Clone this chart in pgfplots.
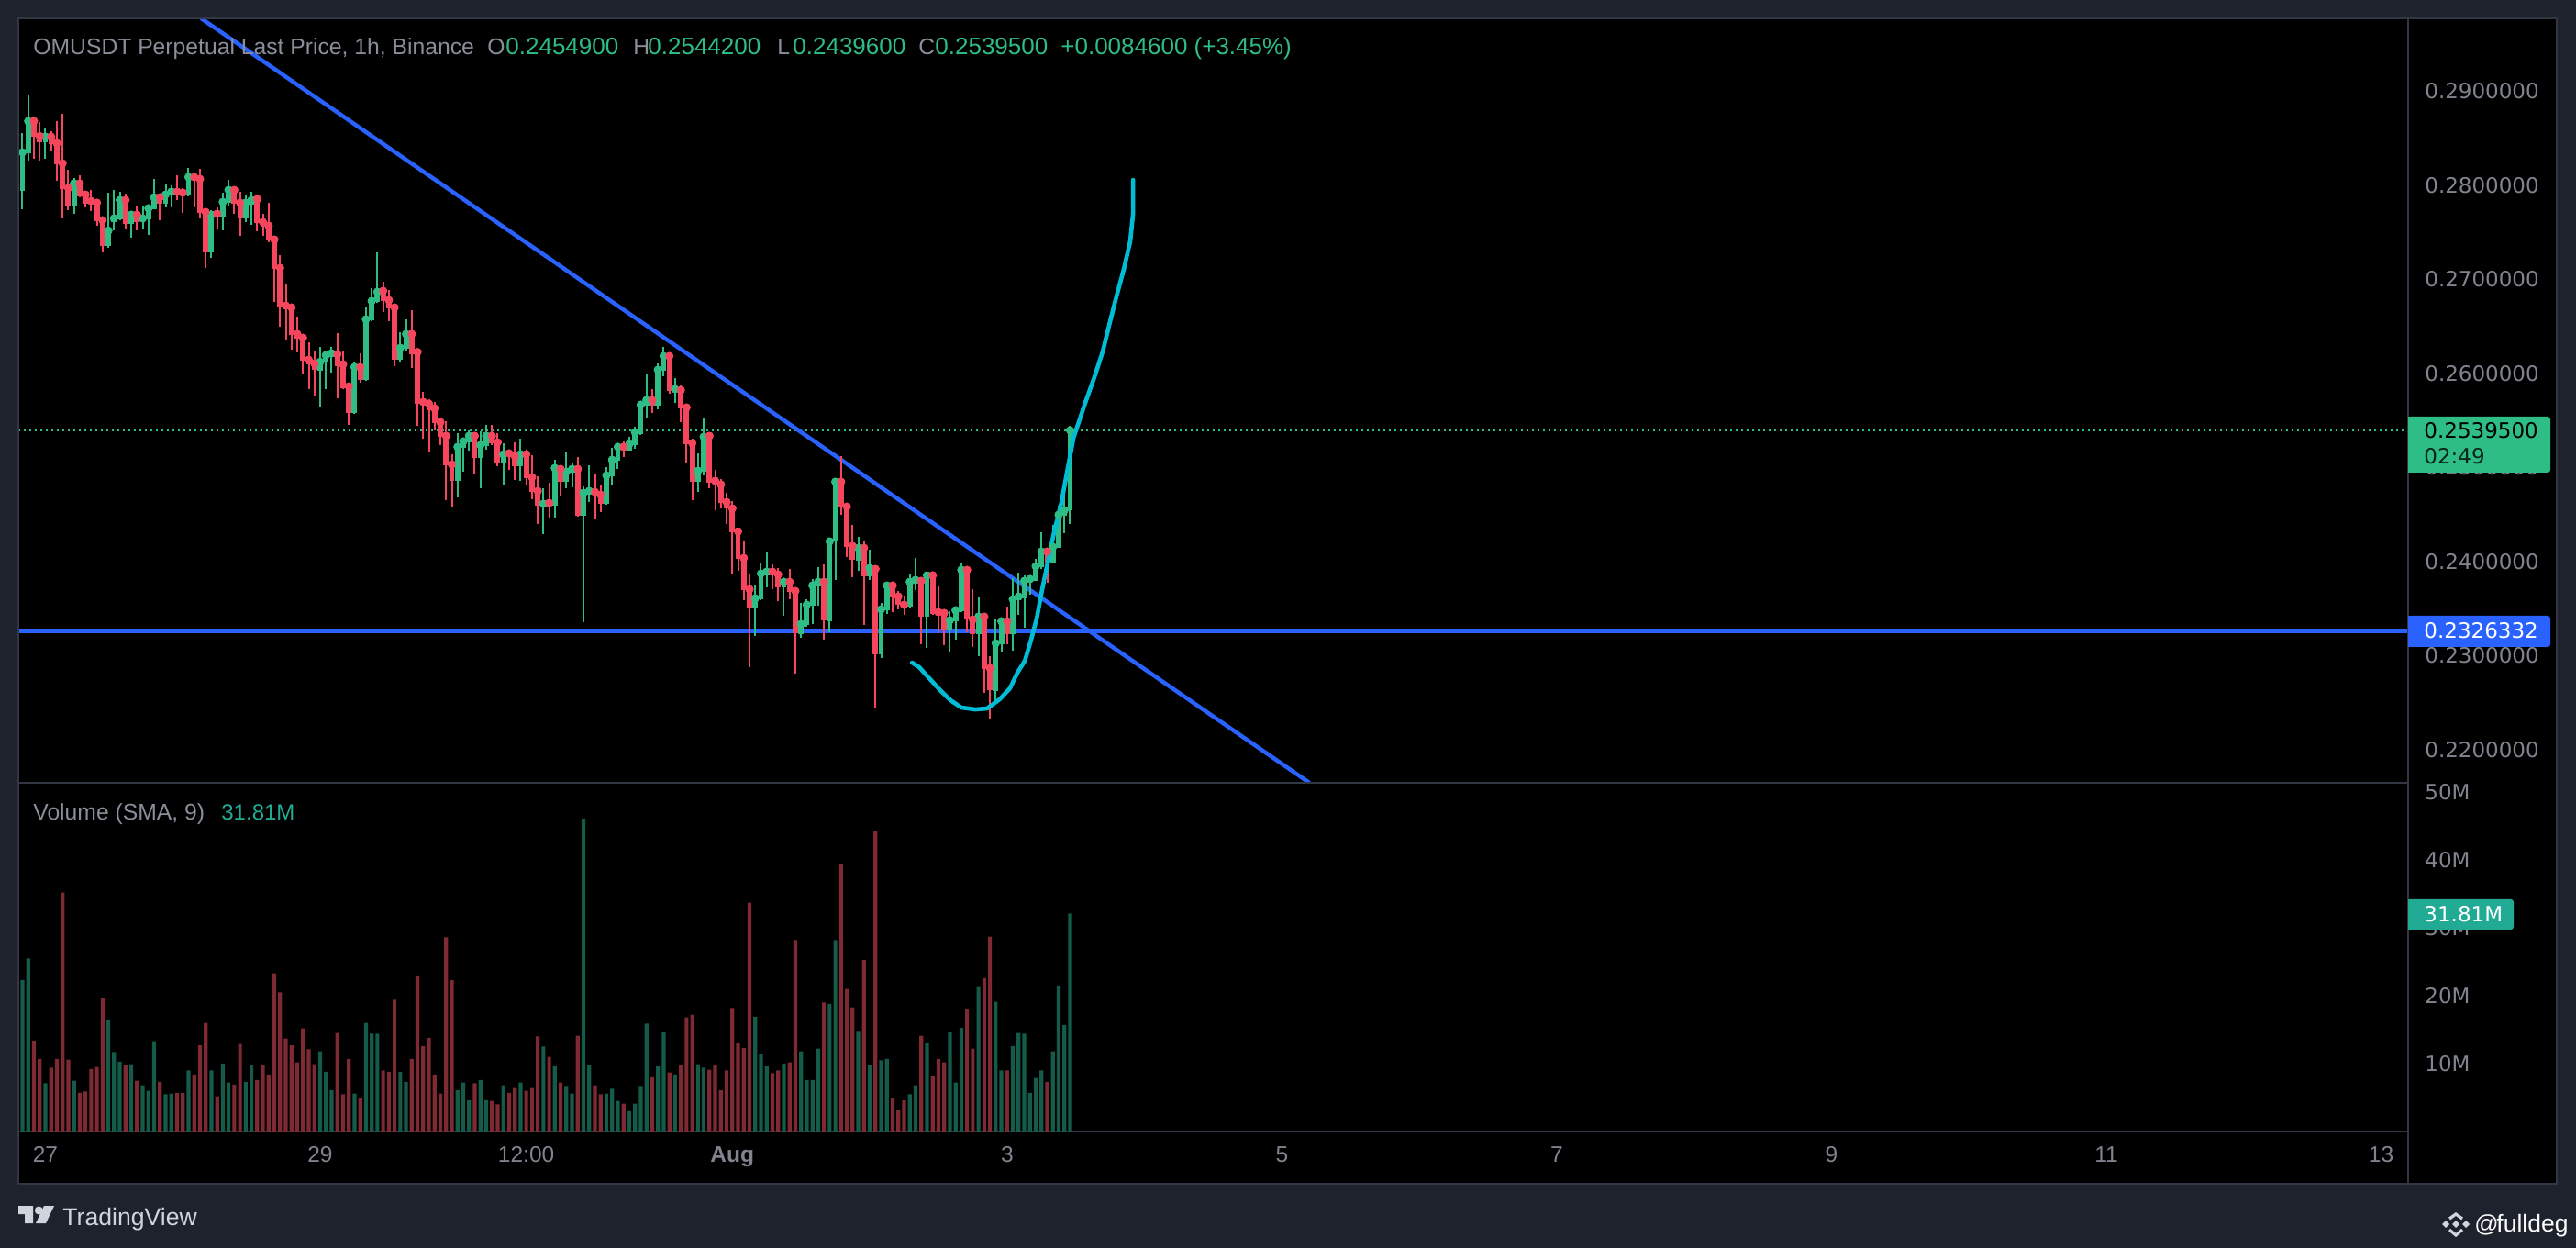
\documentclass[border=0pt]{standalone}
\usepackage{pgfplots}
\usepackage{pgfplotstable}
\usepackage{fontspec}
\pgfplotsset{compat=1.18}
\setmainfont{Liberation Sans}
\newfontfamily\dejavu{DejaVu Sans}
\definecolor{pagebg}{HTML}{1E222D}
\definecolor{edge}{HTML}{333743}
\definecolor{cg}{HTML}{2EBD85}
\definecolor{cr}{HTML}{F6465D}
\definecolor{vg}{HTML}{145C49}
\definecolor{vr}{HTML}{7F2A33}
\definecolor{lineblue}{HTML}{2962FF}
\definecolor{cyanline}{HTML}{00BCD4}
\definecolor{tick}{HTML}{81848F}
\definecolor{legend}{HTML}{8A8E9A}
\definecolor{teal}{HTML}{22AB94}
\definecolor{logo}{HTML}{D1D4DC}
% columns: candle index, high, body top, body bottom, low
\pgfplotstableread{
x high top bot low
0 .28556 .28351 .27941 .27746
1 .28963 .28683 .28341 .28263
4 .28605 .28517 .28458 .28283
9 .28078 .28020 .27785 .27698
15 .27922 .27519 .27356 .27337
16 .27951 .27649 .27610 .27522
17 .27932 .27844 .27639 .27629
19 .27727 .27688 .27590 .27444
21 .27776 .27649 .27610 .27541
22 .27766 .27756 .27639 .27473
23 .28068 .27873 .27746 .27746
25 .28010 .27902 .27805 .27766
26 .28000 .27932 .27893 .27766
29 .28185 .28088 .27893 .27883
33 .27737 .27688 .27288 .27229
35 .27922 .27824 .27668 .27522
36 .28059 .27951 .27815 .27785
39 .27893 .27815 .27649 .27610
40 .27932 .27844 .27795 .27581
52 .26283 .26124 .26029 .25639
53 .26244 .26195 .26117 .25834
54 .26283 .26215 .26198 .26010
58 .26127 .26068 .25580 .25571
60 .26702 .26576 .25932 .25922
61 .26907 .26771 .26566 .26556
62 .27288 .26868 .26761 .26751
66 .26439 .26273 .26146 .26127
67 .26576 .26420 .26263 .26244
76 .25366 .25220 .24859 .24683
77 .25317 .25278 .25210 .24956
78 .25395 .25337 .25268 .25181
80 .25385 .25239 .25102 .24780
81 .25454 .25337 .25229 .25190
84 .25259 .25141 .25054 .24820
87 .25307 .25141 .25015 .24859
91 .24780 .24615 .24595 .24293
93 .25083 .24995 .24595 .24468
95 .25161 .24956 .24849 .24780
96 .25044 .24985 .24946 .24790
98 .24800 .24732 .24488 .23353
99 .25024 .24751 .24732 .24637
102 .25005 .24917 .24615 .24605
103 .25210 .25083 .24907 .24810
104 .25239 .25220 .25073 .24985
106 .25327 .25249 .25181 .25181
107 .25434 .25376 .25239 .25200
108 .25698 .25668 .25356 .25346
109 .25990 .25717 .25659 .25522
111 .26107 .26039 .25659 .25619
112 .26283 .26185 .26029 .25971
114 .25951 .25834 .25815 .25688
118 .25151 .24966 .24849 .24741
119 .25522 .25327 .24956 .24917
128 .23746 .23610 .23502 .23210
129 .23980 .23873 .23600 .23590
130 .24098 .23893 .23854 .23727
133 .23795 .23785 .23727 .23424
136 .23561 .23337 .23229 .23190
137 .23600 .23541 .23327 .23304
138 .23815 .23746 .23532 .23337
139 .23941 .23785 .23737 .23532
141 .24224 .24215 .23366 .23249
142 .24849 .24849 .24215 .23805
146 .24263 .24146 .24010 .23902
148 .24127 .23932 .23844 .23805
150 .23561 .23493 .23015 .22979
151 .23785 .23746 .23483 .23444
155 .23863 .23785 .23522 .23512
156 .24039 .23805 .23785 .23698
158 .23893 .23854 .23415 .23083
162 .23473 .23376 .23268 .23034
163 .23512 .23483 .23366 .23171
164 .23980 .23912 .23473 .23467
167 .23629 .23415 .23229 .22995
170 .23395 .23132 .22624 .22524
171 .23376 .23366 .23122 .23044
173 .23824 .23600 .23229 .23054
174 .23883 .23629 .23590 .23434
175 .23854 .23795 .23610 .23298
176 .23815 .23815 .23795 .23649
177 .24029 .23951 .23795 .23795
178 .24312 .24107 .23941 .23922
180 .24390 .24156 .23980 .23980
181 .24595 .24498 .24146 .24146
182 .24702 .24546 .24488 .24302
183 .25442 .25395 .24549 .24396
}\greencandles
\pgfplotstableread{
x high top bot low
2 .28693 .28683 .28517 .28283
3 .28673 .28524 .28458 .28263
5 .28576 .28517 .28442 .28361
6 .28683 .28449 .28224 .28049
7 .28761 .28234 .27961 .27649
8 .28166 .27971 .27785 .27737
10 .28107 .28020 .27883 .27873
11 .27941 .27902 .27805 .27766
12 .27951 .27834 .27818 .27727
13 .27844 .27815 .27620 .27571
14 .27639 .27629 .27356 .27288
18 .27912 .27844 .27590 .27541
20 .27785 .27688 .27610 .27522
24 .27912 .27873 .27805 .27629
27 .28107 .27932 .27906 .27844
28 .27971 .27922 .27902 .27707
30 .28107 .28088 .28068 .27766
31 .28176 .28068 .27707 .27649
32 .27737 .27717 .27288 .27122
34 .27766 .27698 .27678 .27532
37 .27980 .27951 .27805 .27698
38 .27932 .27815 .27649 .27463
41 .27902 .27854 .27600 .27512
42 .27698 .27610 .27561 .27463
43 .27815 .27571 .27415 .27395
44 .27424 .27424 .27112 .26761
45 .27259 .27122 .26712 .26498
46 .26946 .26722 .26702 .26351
47 .26702 .26702 .26410 .26254
48 .26605 .26420 .26371 .26224
49 .26380 .26380 .26137 .25990
50 .26332 .26146 .26098 .25834
51 .26244 .26107 .26039 .25766
55 .26429 .26205 .26078 .25737
56 .26234 .26098 .25841 .25834
57 .25893 .25863 .25580 .25454
59 .26215 .26068 .25932 .25902
63 .26976 .26878 .26771 .26654
64 .26888 .26780 .26693 .26556
65 .26702 .26702 .26146 .26078
68 .26673 .26420 .26205 .26059
69 .26231 .26228 .25678 .25444
70 .25805 .25698 .25678 .25307
71 .25727 .25678 .25610 .25161
72 .25698 .25629 .25473 .25395
73 .25512 .25483 .25327 .25239
74 .25493 .25337 .25024 .24654
75 .25141 .25034 .24859 .24576
79 .25366 .25337 .25102 .24927
82 .25454 .25337 .25259 .25239
83 .25366 .25268 .25054 .25015
85 .25190 .25151 .25132 .24976
86 .25268 .25122 .25015 .24868
88 .25190 .25141 .24888 .24810
89 .25132 .24898 .24741 .24663
90 .24907 .24751 .24595 .24400
92 .24839 .24624 .24605 .24468
94 .25024 .24985 .24849 .24702
97 .25109 .24985 .24488 .24475
100 .24927 .24741 .24712 .24459
101 .24810 .24712 .24615 .24527
105 .25278 .25220 .25181 .25112
110 .25834 .25717 .25659 .25580
113 .26185 .26185 .25815 .25785
115 .25873 .25824 .25629 .25483
116 .25639 .25639 .25249 .25054
117 .25307 .25259 .24849 .24654
120 .25346 .25337 .24839 .24780
121 .24976 .24859 .24810 .24546
122 .24878 .24820 .24624 .24566
123 .24732 .24634 .24566 .24400
124 .24644 .24566 .24312 .23873
125 .24341 .24322 .24029 .23902
126 .24215 .24039 .23698 .23590
127 .23873 .23707 .23502 .22878
131 .23971 .23893 .23854 .23707
132 .23932 .23863 .23727 .23580
134 .23922 .23785 .23678 .23600
135 .23688 .23688 .23239 .22810
140 .23971 .23785 .23376 .23171
143 .25122 .24849 .24585 .24498
144 .24624 .24585 .24156 .24049
145 .24390 .24166 .24020 .23834
147 .24224 .24146 .23844 .23327
149 .23941 .23922 .23015 .22449
152 .23776 .23746 .23620 .23463
153 .23688 .23629 .23541 .23493
154 .23639 .23541 .23522 .23434
157 .23795 .23795 .23415 .23122
159 .23854 .23854 .23444 .23434
160 .23737 .23463 .23444 .23239
161 .23483 .23454 .23268 .23112
165 .23941 .23912 .23385 .23249
166 .23707 .23385 .23229 .23093
168 .23434 .23415 .22859 .22605
169 .22995 .22868 .22634 .22332
172 .23522 .23366 .23229 .23122
179 .24127 .24107 .23980 .23776
}\redcandles
% volume in millions
\pgfplotstableread{
x v
0 22.3
1 25.5
4 7.1
9 7.5
15 16.5
16 11.7
17 10.3
19 9.9
21 6.8
22 6.0
23 13.3
25 5.5
26 5.6
29 9.0
33 9.0
35 10.0
36 7.2
39 7.3
40 9.8
52 11.8
53 8.8
54 6.1
58 5.6
60 16.0
61 14.4
62 14.4
66 8.8
67 7.3
76 6.1
77 7.2
78 4.6
80 7.6
81 4.6
84 6.8
87 7.2
91 12.5
93 9.6
95 6.7
96 5.6
98 46.1
99 9.8
102 5.6
103 6.3
104 4.5
106 3.0
107 4.1
108 6.7
109 15.9
111 9.6
112 14.6
114 8.4
118 9.9
119 9.4
128 16.9
129 11.4
130 9.6
133 10.0
136 11.8
137 7.6
138 7.6
139 12.2
141 18.8
142 28.2
146 14.8
148 9.8
150 10.5
151 10.7
155 5.5
156 6.8
158 13.0
162 14.6
163 7.2
164 15.3
167 21.4
170 19.1
171 9.0
173 12.6
174 14.5
175 14.4
176 5.7
177 7.9
178 9.0
180 11.8
181 21.5
182 15.7
183 32.1
}\greenvol
\pgfplotstableread{
x v
2 13.4
3 10.7
5 9.4
6 10.7
7 35.2
8 10.6
10 5.7
11 5.9
12 9.2
13 9.5
14 19.6
18 9.8
20 7.5
24 7.3
27 5.7
28 5.7
30 8.4
31 12.7
32 16.0
34 5.2
37 6.9
38 12.9
41 7.6
42 9.8
43 8.4
44 23.3
45 20.5
46 13.7
47 12.7
48 10.2
49 15.2
50 12.1
51 9.9
55 14.5
56 5.5
57 10.7
59 5.0
63 9.0
64 8.8
65 19.4
68 10.7
69 23.0
70 12.6
71 13.8
72 8.4
73 5.6
74 28.6
75 22.3
79 7.1
82 4.5
83 4.0
85 5.7
86 6.4
88 6.0
89 6.4
90 14.0
92 11.0
94 7.2
97 14.1
100 6.8
101 5.5
105 4.1
110 8.0
113 8.7
115 9.8
116 16.8
117 17.2
120 9.1
121 9.8
122 6.1
123 9.0
124 18.2
125 13.0
126 12.3
127 33.7
131 8.6
132 9.0
134 10.2
135 28.2
140 19.0
143 39.4
144 21.0
145 18.3
147 25.3
149 44.2
152 4.9
153 3.2
154 4.6
157 14.1
159 8.2
160 10.7
161 10.2
165 18.0
166 12.2
168 22.6
169 28.7
172 9.0
179 7.3
}\redvol
\pgfplotsset{
  chartaxis/.style={
    scale only axis, width=1302.5pt,
    xmin=-0.72, xmax=416.73,
    axis line style={edge, line width=1pt},
    major tick length=0pt,
    yticklabel pos=right,
    yticklabel style={anchor=west, xshift=5.65pt, text=tick, font=\dejavu\fontsize{11.5}{12}\selectfont},
  },
  wick/.style={only marks, mark=none, color=#1, error bars/.cd, y dir=both, y explicit, error mark=none, error bar style={line width=1pt, color=#1}},
  body/.style={only marks, mark=none, color=#1, error bars/.cd, y dir=minus, y explicit, error mark=none, error bar style={line width=2.95pt, color=#1}},
}
\begin{document}
\begin{tikzpicture}
\path[use as bounding box] (0,0) rectangle (1404pt,680pt);
\fill[pagebg] (0,0) rectangle (1404pt,680pt);
\fill[black] (10pt,35pt) rectangle (1393.5pt,670pt);
\begin{axis}[chartaxis, at={(10pt,253.5pt)}, anchor=south west, height=416.5pt,
  ymin=0.21649, ymax=0.29776, xtick=\empty,
  ytick={0.22,0.23,0.24,0.25,0.26,0.27,0.28,0.29},
  yticklabels={0.2200000,0.2300000,0.2400000,0.2500000,0.2600000,0.2700000,0.2800000,0.2900000}]
\addplot[cg, line width=1pt, dash pattern=on 1pt off 2pt] coordinates {(-0.72,0.25395) (416,0.25395)};
\addplot[lineblue, line width=2.2pt] coordinates {(-0.72,0.2326332) (416.73,0.2326332)};
\addplot[lineblue, line width=2.2pt] coordinates {(31.2,0.29776) (224.8,0.21649)};
\addplot[wick=cg] table[x=x, y=top, y error plus expr=\thisrow{high}-\thisrow{top}, y error minus expr=\thisrow{top}-\thisrow{low}] {\greencandles};
\addplot[wick=cr] table[x=x, y=top, y error plus expr=\thisrow{high}-\thisrow{top}, y error minus expr=\thisrow{top}-\thisrow{low}] {\redcandles};
\addplot[body=cg] table[x=x, y=top, y error minus expr=\thisrow{top}-\thisrow{bot}] {\greencandles};
\addplot[body=cr] table[x=x, y=top, y error minus expr=\thisrow{top}-\thisrow{bot}] {\redcandles};
\addplot[cyanline, line width=2.3pt, line cap=round, line join=round] coordinates {
(155.4,.22927)(156.65,.22878)(158.1,.22780)(160.3,.22634)(162.1,.22527)(164.0,.22449)(166.4,.22429)(168.5,.22439)(170.7,.22537)(172.5,.22654)(173.8,.22820)(175.1,.22946)(176.2,.23171)(177.2,.23405)(178.1,.23698)(179.1,.23990)(180.2,.24312)(181.5,.24634)(182.6,.24995)(183.6,.25317)(185.7,.25698)(187.3,.25971)(188.7,.26234)(190.0,.26556)(191.1,.26820)(192.4,.27112)(193.5,.27405)(194.0,.27698)(194.0,.28058)};
\end{axis}
\begin{axis}[chartaxis, at={(10pt,63.5pt)}, anchor=south west, height=190pt,
  ymin=0, ymax=51.35,
  ytick={10,20,30,40,50}, yticklabels={10M,20M,30M,40M,50M},
  xtick={4,52,88,124,172,220,268,316,364,412},
  xticklabels={27,29,12:00,\textbf{Aug},3,5,7,9,11,13},
  xticklabel style={anchor=base, yshift=-16.65pt, text=tick, font=\fontsize{12.25}{13}\selectfont}]
\addplot[ybar, bar width=2.1pt, bar shift=0pt, fill=vg, draw=none] table[x=x,y=v] {\greenvol};
\addplot[ybar, bar width=2.1pt, bar shift=0pt, fill=vr, draw=none] table[x=x,y=v] {\redvol};
\end{axis}
\begin{scope}[shift={(0,680pt)}, x=0.5pt, y=-0.5pt]
\draw[edge, line width=1pt] (20,20) rectangle (2787,1290);
\draw[edge, line width=1pt] (2625,20) -- (2625,1290);
% last price tag
\fill[cg, rounded corners=1.5pt] (2625,454) rectangle (2780,515);
\fill[cg] (2625,454) rectangle (2635,515);
\node[anchor=base west, inner sep=0, text=black, font=\dejavu\fontsize{11.5}{12}\selectfont] at (2642,478) {0.2539500};
\node[anchor=base west, inner sep=0, text=black!80!cg, font=\dejavu\fontsize{11.5}{12}\selectfont] at (2642,506) {02:49};
% level tag
\fill[lineblue, rounded corners=1.5pt] (2625,671) rectangle (2780,705);
\fill[lineblue] (2625,671) rectangle (2635,705);
\node[anchor=base west, inner sep=0, text=white, font=\dejavu\fontsize{11.5}{12}\selectfont] at (2642,696) {0.2326332};
% volume tag
\fill[teal, rounded corners=1.5pt] (2625,980) rectangle (2740,1013);
\fill[teal] (2625,980) rectangle (2635,1013);
\node[anchor=base west, inner sep=0, text=white, font=\dejavu\fontsize{11.5}{12}\selectfont] at (2642,1004) {31.81M};
% legends
\tikzset{lg/.style={anchor=base west, inner sep=0, text=legend, font=\fontsize{12.35}{13}\selectfont},
         lv/.style={anchor=base west, inner sep=0, text=cg, font=\fontsize{13}{14}\selectfont}}
\node[lg] at (36,60) {OMUSDT Perpetual Last Price, 1h, Binance};
\node[lg] at (531,60) {O};
\node[lv] at (551,60) {0.2454900};
\node[lg] at (690,60) {H};
\node[lv] at (706,60) {0.2544200};
\node[lg] at (847,60) {L};
\node[lv] at (864,60) {0.2439600};
\node[lg] at (1001,60) {C};
\node[lv] at (1019,60) {0.2539500};
\node[lv] at (1156,60) {+0.0084600 (+3.45\%)};
\node[lg] at (36,894) {Volume (SMA, 9)};
\node[anchor=base west, inner sep=0, text=teal, font=\fontsize{12}{13}\selectfont] at (241,894) {31.81M};
% TradingView mark
\fill[logo] (20,1314) -- (36,1314) -- (36,1333) -- (27,1333) -- (27,1323) -- (20,1323) -- cycle;
\fill[logo] (42.3,1319) circle[radius=4.5];
\fill[logo] (48,1314) -- (59,1314) -- (50,1333) -- (39,1333) -- cycle;
\node[anchor=base west, inner sep=0, text=logo, font=\fontsize{13.3}{14}\selectfont] at (68,1335) {TradingView};
% Binance mark and handle
\fill[logo] (2677,1330) -- (2681,1334) -- (2677,1338) -- (2673,1334) -- cycle;
\fill[logo] (2666,1330) -- (2670,1334) -- (2666,1338) -- (2662,1334) -- cycle;
\fill[logo] (2688,1330) -- (2692,1334) -- (2688,1338) -- (2684,1334) -- cycle;
\draw[logo, line width=1.6pt] (2670,1328) -- (2677,1323) -- (2684,1328);
\draw[logo, line width=1.6pt] (2670,1340) -- (2677,1346) -- (2684,1340);
\node[anchor=base west, inner sep=0, text=white!90!logo, font=\fontsize{13}{14}\selectfont] at (2697,1342) {@};
\node[anchor=base west, inner sep=0, text=white!90!logo, font=\fontsize{13.25}{14}\selectfont] at (2721,1342) {fulldeg};
\end{scope}
\end{tikzpicture}
\end{document}
